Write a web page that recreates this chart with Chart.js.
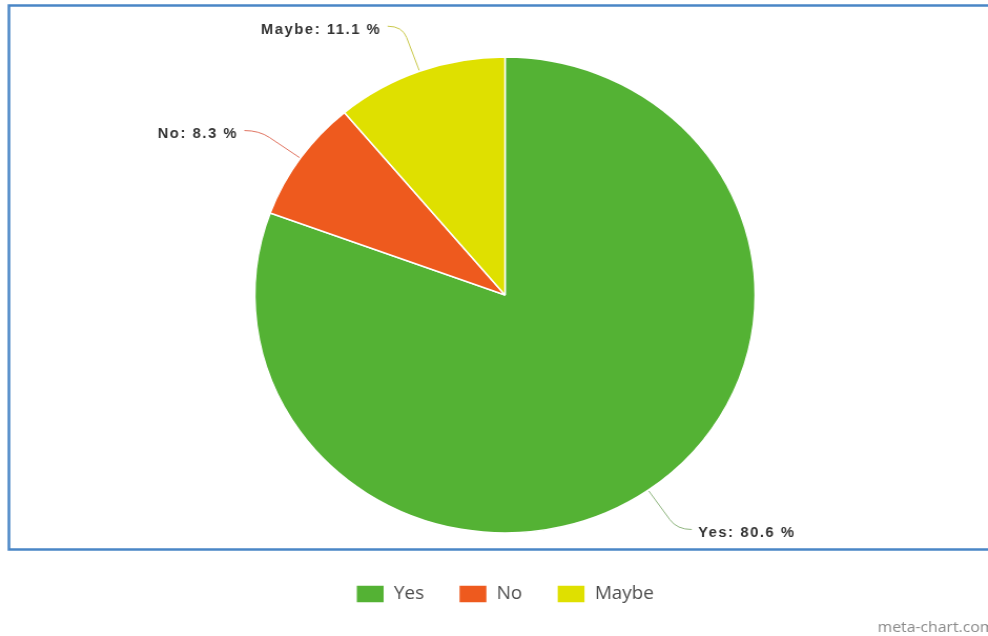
<!DOCTYPE html>
<html>
<head>
<meta charset="utf-8">
<title>Yes / No / Maybe</title>
<script src="https://cdn.jsdelivr.net/npm/chart.js@4.4.1/dist/chart.umd.min.js"></script>
<style>
  html, body { margin: 0; padding: 0; background: #fff; overflow: hidden; }
  /* chart is drawn a bit narrower and stretched sideways to the full width */
  #wrap { width: 940px; height: 636px; transform: scaleX(1.051); transform-origin: 0 0; }
</style>
</head>
<body>
<div id="wrap"><canvas id="pieChart"></canvas></div>
<script>
  const labels = ['Yes', 'No', 'Maybe'];
  const values = [80.6, 8.3, 11.1];
  const colors = ['#54b234', '#ee5a1e', '#dfe000'];
  const lineColors = ['#8fb57f', '#e07461', '#c9c84a'];

  // frame round the plot + site mark in the corner
  const framePlugin = {
    id: 'frame',
    beforeDraw(chart) {
      const ctx = chart.ctx;
      ctx.save();
      ctx.strokeStyle = '#4a86c6';
      ctx.lineWidth = 2.5;
      ctx.strokeRect(8.5, 5.5, chart.width + 20, 544);
      ctx.fillStyle = '#8a8a8a';
      ctx.font = '15px "Open Sans"';
      ctx.textBaseline = 'middle';
      ctx.fillText('meta-chart.com', 835, 628);
      ctx.restore();
    }
  };

  // value labels outside the pie with curved connectors
  const outLabels = {
    id: 'outLabels',
    afterDatasetsDraw(chart) {
      const ctx = chart.ctx;
      const meta = chart.getDatasetMeta(0);
      ctx.save();
      ctx.font = 'bold 14px "Liberation Sans", Arial, sans-serif';
      ctx.letterSpacing = '1.5px';
      ctx.fillStyle = '#333';
      ctx.textBaseline = 'middle';
      meta.data.forEach((arc, i) => {
        const mid = (arc.startAngle + arc.endAngle) / 2;
        const r = arc.outerRadius;
        const cx = arc.x, cy = arc.y;
        const dx = Math.cos(mid), dy = Math.sin(mid);
        const right = dx >= 0;
        const p0 = { x: cx + dx * (r + 1), y: cy + dy * (r + 1) };
        const pa = { x: cx + dx * (r + 36), y: cy + dy * (r + 36) };
        const p1 = { x: cx + dx * (r + 48), y: cy + dy * (r + 48) };
        const p2 = { x: p1.x + (right ? 14 : -14), y: p1.y };
        ctx.strokeStyle = lineColors[i];
        ctx.lineWidth = 1;
        ctx.beginPath();
        ctx.moveTo(p0.x, p0.y);
        ctx.lineTo(pa.x, pa.y);
        ctx.quadraticCurveTo(p1.x, p1.y, p2.x, p2.y);
        ctx.stroke();
        const txt = labels[i] + ': ' + values[i] + ' %';
        ctx.textAlign = right ? 'left' : 'right';
        ctx.fillText(txt, p2.x + (right ? 6 : -6), p2.y + 4);
      });
      ctx.restore();
    }
  };

  const data = {
    labels: labels,
    datasets: [{
      data: values,
      backgroundColor: colors,
      borderColor: '#ffffff',
      borderWidth: 1.5,
      radius: 238
    }]
  };

  const config = {
    type: 'pie',
    data: data,
    options: {
      responsive: true,
      maintainAspectRatio: false,
      animation: false,
      events: [],
      layout: {
        padding: { left: 21, right: 0, top: 38, bottom: 23 }
      },
      plugins: {
        tooltip: { enabled: false },
        legend: {
          position: 'bottom',
          labels: {
            boxWidth: 27,
            boxHeight: 18,
            padding: 33,
            color: '#4d4d4d',
            font: { family: '"Open Sans", sans-serif', size: 18 }
          }
        }
      }
    },
    plugins: [framePlugin, outLabels]
  };

  var pieChart = new Chart(
    document.getElementById('pieChart'),
    config
  );
</script>
</body>
</html>
